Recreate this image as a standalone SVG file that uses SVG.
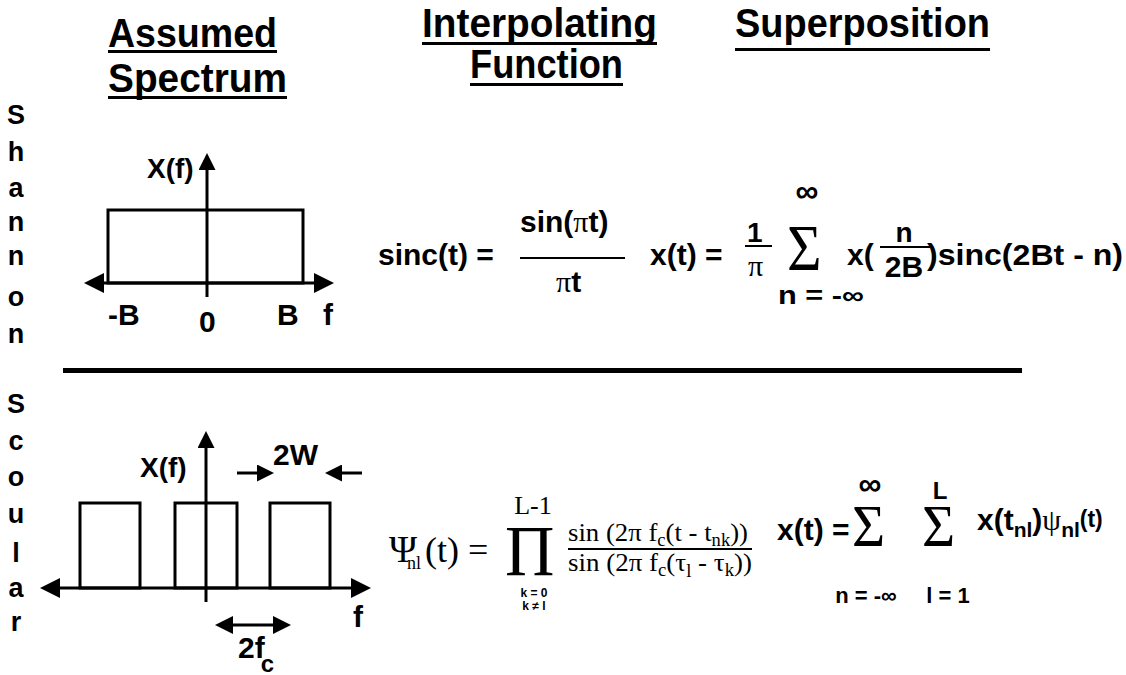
<svg xmlns="http://www.w3.org/2000/svg" width="1126" height="675" viewBox="0 0 1126 675">
<style>
.h{font-family:"Liberation Sans",Arial,sans-serif;font-weight:bold;font-size:40px;fill:#000}
.b{font-family:"Liberation Sans",Arial,sans-serif;font-weight:bold;fill:#000}
.s{font-family:"Liberation Serif","Times New Roman",serif;fill:#000}
.v{font-family:"Liberation Sans",Arial,sans-serif;font-weight:bold;font-size:27px;text-anchor:middle;fill:#000}
.ln{stroke:#000;stroke-width:3;fill:none}
.ul{fill:#000}
</style>
<defs>
<marker id="big" viewBox="0 0 10 10" refX="0" refY="5" markerUnits="userSpaceOnUse" markerWidth="32" markerHeight="20" orient="auto-start-reverse"><path d="M0,0 L10,5 L0,10 z" fill="#000"/></marker>
<marker id="vert" viewBox="0 0 10 10" refX="0" refY="5" markerUnits="userSpaceOnUse" markerWidth="35" markerHeight="17" orient="auto"><path d="M0,0 L10,5 L0,10 z" fill="#000"/></marker>
<marker id="mid" viewBox="0 0 10 10" refX="0" refY="5" markerUnits="userSpaceOnUse" markerWidth="30" markerHeight="18" orient="auto-start-reverse"><path d="M0,0 L10,5 L0,10 z" fill="#000"/></marker>
<marker id="sm" viewBox="0 0 10 10" refX="0" refY="5" markerUnits="userSpaceOnUse" markerWidth="19" markerHeight="17" orient="auto"><path d="M0,0 L10,5 L0,10 z" fill="#000"/></marker>
</defs>
<rect width="1126" height="675" fill="#fff"/>

<g id="headings">
<text class="h" x="108" y="47" textLength="169" lengthAdjust="spacingAndGlyphs">Assumed</text>
<rect class="ul" x="108" y="50" width="169" height="3"/>
<text class="h" x="108" y="92" textLength="179" lengthAdjust="spacingAndGlyphs">Spectrum</text>
<rect class="ul" x="108" y="96" width="179" height="3"/>
<text class="h" x="422" y="37" textLength="235" lengthAdjust="spacingAndGlyphs">Interpolating</text>
<rect class="ul" x="422" y="42" width="235" height="3"/>
<text class="h" x="470" y="78" textLength="153" lengthAdjust="spacingAndGlyphs">Function</text>
<rect class="ul" x="470" y="83" width="153" height="3"/>
<text class="h" x="735" y="37" textLength="255" lengthAdjust="spacingAndGlyphs">Superposition</text>
<rect class="ul" x="735" y="48" width="255" height="3"/>
</g>

<g id="label-shannon">
<text class="v" x="16" y="124">S</text>
<text class="v" x="16" y="161">h</text>
<text class="v" x="16" y="197">a</text>
<text class="v" x="16" y="231">n</text>
<text class="v" x="16" y="265">n</text>
<text class="v" x="16" y="306">o</text>
<text class="v" x="16" y="343">n</text>
</g>

<g id="label-scoular">
<text class="v" x="16" y="413">S</text>
<text class="v" x="16" y="450">c</text>
<text class="v" x="16" y="486">o</text>
<text class="v" x="16" y="523">u</text>
<text class="v" x="16" y="562">l</text>
<text class="v" x="16" y="597">a</text>
<text class="v" x="16" y="631">r</text>
</g>

<g id="shannon-spectrum">
<rect class="ln" x="108" y="210" width="195" height="73"/>
<text class="b" x="147" y="178" font-size="28">X(f)</text>
<text class="b" x="108" y="325" font-size="30">-B</text>
<text class="b" x="199" y="332" font-size="30">0</text>
<text class="b" x="277" y="325" font-size="30">B</text>
<text class="b" x="323" y="325" font-size="30">f</text>
</g>

<g id="shannon-interpolating">
<text class="b" x="378" y="265" font-size="30">sinc(t) =</text>
<text class="b" x="520" y="232" font-size="30">sin(<tspan class="s" font-size="30" font-weight="normal">π</tspan>t)</text>
<rect class="ul" x="520" y="257" width="105" height="2"/>
<text class="b" x="556" y="292" font-size="30"><tspan class="s" font-weight="normal">π</tspan>t</text>
</g>

<g id="shannon-superposition">
<text class="b" x="650" y="265" font-size="30">x(t) =</text>
<text class="b" x="747" y="242" font-size="28">1</text>
<rect class="ul" x="745" y="245" width="27" height="2"/>
<text class="s" x="748" y="276" font-size="30">π</text>
<text class="b" x="807" y="202" font-size="32" text-anchor="middle">∞</text>
<text class="s" transform="translate(787,270) scale(0.9,1)" font-size="66">Σ</text>
<text class="b" x="821" y="304" font-size="25" text-anchor="middle" textLength="86" lengthAdjust="spacingAndGlyphs">n = -∞</text>
<text class="b" x="847" y="265" font-size="30">x(</text>
<text class="b" x="904" y="242" font-size="28" text-anchor="middle">n</text>
<rect class="ul" x="880" y="246" width="50" height="2"/>
<text class="b" x="904" y="277" font-size="30" text-anchor="middle">2B</text>
<text class="b" x="927" y="265" font-size="30" textLength="196" lengthAdjust="spacingAndGlyphs">)sinc(2Bt - n)</text>
</g>

<g id="divider">
<rect class="ul" x="63" y="368" width="959" height="5"/>
</g>

<g id="scoular-spectrum">
<rect class="ln" x="80" y="503" width="60" height="85"/>
<rect class="ln" x="175" y="503" width="62" height="85"/>
<rect class="ln" x="270" y="503" width="60" height="85"/>
<text class="b" x="140" y="477" font-size="28">X(f)</text>
<text class="b" x="273" y="465" font-size="30">2W</text>
<text class="b" x="353" y="627" font-size="30">f</text>
<text class="b" x="238" y="658" font-size="30">2f<tspan font-size="24" dy="14" dx="-4">c</tspan></text>
</g>

<g id="scoular-interpolating">
<text class="s" x="389" y="562" font-size="38">Ψ</text>
<text class="s" x="407" y="569" font-size="18">nl</text>
<text class="s" x="425" y="562" font-size="36">(t) =</text>
<text class="s" transform="translate(505,575) scale(0.95,1)" font-size="72">Π</text>
<text class="s" x="533" y="514" font-size="26" text-anchor="middle">L-1</text>
<text class="b" x="534" y="597" font-size="12" text-anchor="middle">k = 0</text>
<text class="b" x="534" y="610" font-size="12" text-anchor="middle">k ≠ l</text>
<text class="s" x="568" y="541" font-size="26" textLength="180" lengthAdjust="spacingAndGlyphs">sin (2π f<tspan font-size="18" dy="5">c</tspan><tspan dy="-5">(t - t</tspan><tspan font-size="18" dy="5">nk</tspan><tspan dy="-5">))</tspan></text>
<rect class="ul" x="568" y="548" width="184" height="2"/>
<text class="s" x="568" y="571" font-size="26" textLength="184" lengthAdjust="spacingAndGlyphs">sin (2π f<tspan font-size="18" dy="5">c</tspan><tspan dy="-5">(τ</tspan><tspan font-size="18" dy="6">l</tspan><tspan dy="-6"> - τ</tspan><tspan font-size="18" dy="5">k</tspan><tspan dy="-5">))</tspan></text>
</g>

<g id="scoular-superposition">
<text class="b" x="777" y="540" font-size="30">x(t) =</text>
<text class="s" transform="translate(852,546) scale(0.95,1)" font-size="60">Σ</text>
<text class="b" x="870" y="495" font-size="32" text-anchor="middle">∞</text>
<text class="s" transform="translate(922,546) scale(0.95,1)" font-size="60">Σ</text>
<text class="b" x="940" y="499" font-size="24" text-anchor="middle">L</text>
<text class="b" x="866" y="603" font-size="22" text-anchor="middle">n = -∞</text>
<text class="b" x="948" y="603" font-size="22" text-anchor="middle">l = 1</text>
<text class="b" x="977" y="530" font-size="30">x(t<tspan font-size="21" dy="7">nl</tspan><tspan dy="-7">)</tspan><tspan class="s" font-weight="normal" font-size="30">ψ</tspan><tspan font-size="21" dy="7">nl</tspan><tspan font-size="23" dy="-10">(t)</tspan></text>
</g>

<g id="connectors">
<line class="ln" x1="104" y1="283" x2="314" y2="283" marker-start="url(#big)" marker-end="url(#big)"/>
<line class="ln" x1="207" y1="297" x2="207" y2="170" marker-end="url(#vert)"/>
<line class="ln" x1="60" y1="588" x2="351" y2="588" marker-start="url(#big)" marker-end="url(#big)"/>
<line class="ln" x1="206" y1="602" x2="206" y2="448" marker-end="url(#vert)"/>
<line class="ln" x1="237" y1="473" x2="257" y2="473" marker-end="url(#sm)"/>
<line class="ln" x1="362" y1="473" x2="342" y2="473" marker-end="url(#sm)"/>
<line class="ln" x1="233" y1="625" x2="273" y2="625" marker-start="url(#mid)" marker-end="url(#mid)"/>
</g>
</svg>
